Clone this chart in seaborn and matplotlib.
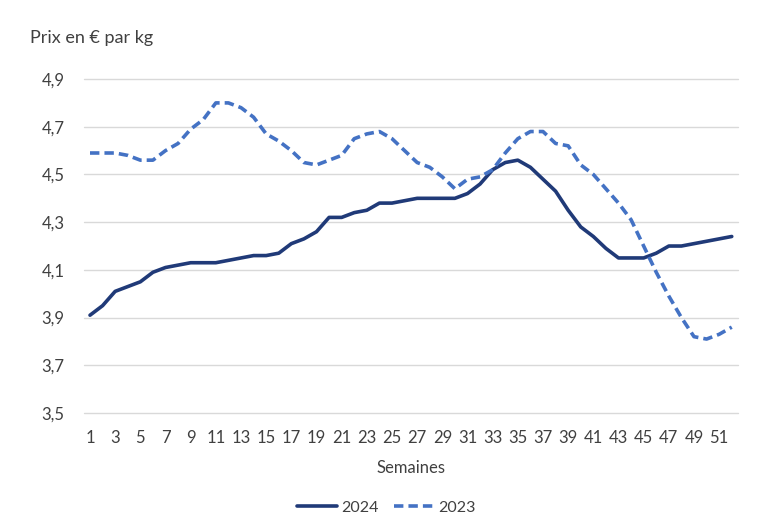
import pandas as pd
import matplotlib.pyplot as plt
import seaborn as sns
from matplotlib.ticker import FuncFormatter
from matplotlib.lines import Line2D

# Weekly price per kg
weeks = list(range(1, 53))
prix_2024 = [3.91, 3.95, 4.01, 4.03, 4.05, 4.09, 4.11, 4.12, 4.13, 4.13,
             4.13, 4.14, 4.15, 4.16, 4.16, 4.17, 4.21, 4.23, 4.26, 4.32,
             4.32, 4.34, 4.35, 4.38, 4.38, 4.39, 4.40, 4.40, 4.40, 4.40,
             4.42, 4.46, 4.52, 4.55, 4.56, 4.53, 4.48, 4.43, 4.35, 4.28,
             4.24, 4.19, 4.15, 4.15, 4.15, 4.17, 4.20, 4.20, 4.21, 4.22,
             4.23, 4.24]
prix_2023 = [4.59, 4.59, 4.59, 4.58, 4.56, 4.56, 4.60, 4.63, 4.69, 4.73,
             4.80, 4.80, 4.78, 4.74, 4.67, 4.64, 4.60, 4.55, 4.54, 4.56,
             4.58, 4.65, 4.67, 4.68, 4.65, 4.60, 4.55, 4.53, 4.49, 4.44,
             4.48, 4.49, 4.52, 4.59, 4.65, 4.68, 4.68, 4.63, 4.62, 4.54,
             4.50, 4.44, 4.38, 4.31, 4.20, 4.09, 3.99, 3.90, 3.82, 3.81,
             3.83, 3.86]
series_names = ["2024", "2023"]
x_ticks = list(range(1, 52, 2))
y_ticks = [3.5, 3.7, 3.9, 4.1, 4.3, 4.5, 4.7, 4.9]

colors = {"2024": "#203A78", "2023": "#4472C4"}
dashes = {"2024": "", "2023": (2.6, 1.4)}
text_color = "#404040"

data = pd.DataFrame({
    "Semaine": weeks * 2,
    "Prix": prix_2024 + prix_2023,
    "Année": ["2024"] * len(weeks) + ["2023"] * len(weeks),
})

sns.set_theme(style="white")
plt.rcParams["font.family"] = ["Lato", "DejaVu Sans"]

fig = plt.figure(figsize=(7.68, 5.27), dpi=100)
ax = fig.add_axes([0.109, 0.2163, 0.852, 0.6337])

sns.lineplot(data=data, x="Semaine", y="Prix", hue="Année", style="Année",
             palette=colors, dashes=dashes, hue_order=series_names,
             linewidth=2.6, legend=False, ax=ax)
for line in ax.lines:
    line.set_solid_joinstyle("round")
    line.set_dash_joinstyle("round")

ax.set_xlim(0.5, 52.5)
ax.set_ylim(3.5, 4.9)
ax.set_xticks(x_ticks)
ax.set_yticks(y_ticks)
ax.yaxis.set_major_formatter(FuncFormatter(lambda v, p: f"{v:.1f}".replace(".", ",")))
ax.grid(axis="y", color="#D9D9D9", linewidth=1.0)
ax.grid(axis="x", visible=False)
ax.set_axisbelow(True)
for s in ax.spines.values():
    s.set_visible(False)
ax.tick_params(axis="both", length=0, labelsize=12, colors=text_color)
ax.tick_params(axis="y", pad=14)
ax.tick_params(axis="x", pad=12)
for gl in ax.get_ygridlines():
    gl.set_clip_on(False)

ax.set_xlabel("Semaines", fontsize=12, color=text_color, labelpad=10)
ax.set_ylabel("")
fig.text(0.039, 0.928, "Prix en € par kg", fontsize=13, color=text_color,
         ha="left", va="center")

handles = [Line2D([0], [0], color=colors["2024"], linewidth=2.6),
           Line2D([0], [0], color=colors["2023"], linewidth=2.6, linestyle=(0, (2.6, 1.4)))]
fig.legend(handles, series_names, loc="center", bbox_to_anchor=(0.503, 0.037),
           ncol=2, frameon=False, fontsize=11.5, handlelength=2.5, handletextpad=0.3,
           columnspacing=0.9, labelcolor=text_color)

fig.savefig("out.png", dpi=100)
